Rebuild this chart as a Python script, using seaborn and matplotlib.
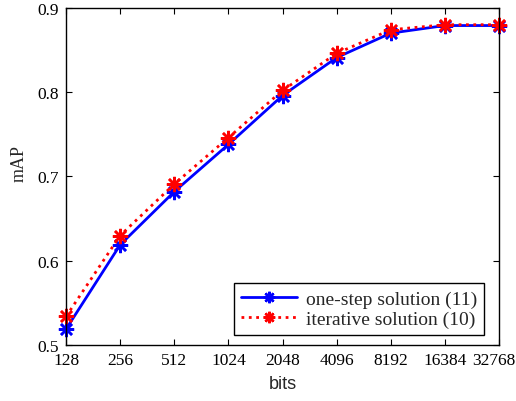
import numpy as np
import pandas as pd
import seaborn as sns
import matplotlib.pyplot as plt
import matplotlib.transforms as mtransforms

bits = [128, 256, 512, 1024, 2048, 4096, 8192, 16384, 32768]
one_step = [0.519, 0.619, 0.682, 0.738, 0.796, 0.841, 0.870, 0.879, 0.879]
iterative = [0.534, 0.630, 0.691, 0.746, 0.802, 0.846, 0.874, 0.880, 0.880]
names = ["one-step solution (11)", "iterative solution (10)"]

sns.set_style("ticks")
plt.rcParams["font.family"] = ["Liberation Serif", "DejaVu Serif"]

df1 = pd.DataFrame({"bits": bits, "mAP": one_step})
df2 = pd.DataFrame({"bits": bits, "mAP": iterative})

fig = plt.figure(figsize=(5.16, 4.02), dpi=100)
ax = fig.add_axes([0.128, 0.139, 0.839, 0.839])

ast = (8, 2, 0)
sns.lineplot(data=df1, x="bits", y="mAP", ax=ax, color="#0000ff", lw=2, marker=ast,
             markersize=11, markeredgewidth=1.8, markeredgecolor="#0000ff", label=names[0],
             clip_on=False)
sns.lineplot(data=df2, x="bits", y="mAP", ax=ax, color="#ff0000", lw=2, linestyle=":",
             marker=ast, markersize=11, markeredgewidth=1.8, markeredgecolor="#ff0000",
             label=names[1], clip_on=False)

ax.set_xscale("log", base=2)
ax.set_xlim(128, 32768)
ax.set_ylim(0.5, 0.9)
ax.set_xticks(bits)
ax.set_xticklabels([str(b) for b in bits])
ax.minorticks_off()
ax.set_yticks([0.5, 0.6, 0.7, 0.8, 0.9])
ax.set_yticklabels(["0.5", "0.6", "0.7", "0.8", "0.9"])
ax.tick_params(direction="in", top=True, right=True, labelsize=12.5, length=4, width=0.8,
               colors="black", pad=5)
for s in ax.spines.values():
    s.set_linewidth(1.0)
    s.set_color("black")

# last tick label nudged left so it stays inside the figure
last = ax.get_xticklabels()[-1]
last.set_transform(last.get_transform() + mtransforms.ScaledTranslation(-5 / 100, 0, fig.dpi_scale_trans))

ax.set_xlabel("bits", family=["Liberation Sans", "DejaVu Sans"], fontsize=13, labelpad=5)
ax.set_ylabel("mAP", fontsize=13, labelpad=10)
ax.yaxis.set_label_coords(-0.088, 0.54)

leg = ax.legend(loc="lower right", bbox_to_anchor=(0.966, 0.03), borderaxespad=0,
                fontsize=14, fancybox=False, edgecolor="black", framealpha=1,
                handlelength=2.9, labelspacing=0.15, markerscale=0.75, borderpad=0.35,
                handletextpad=0.45)
leg.get_frame().set_linewidth(1.0)

fig.savefig("out.png", dpi=100)
